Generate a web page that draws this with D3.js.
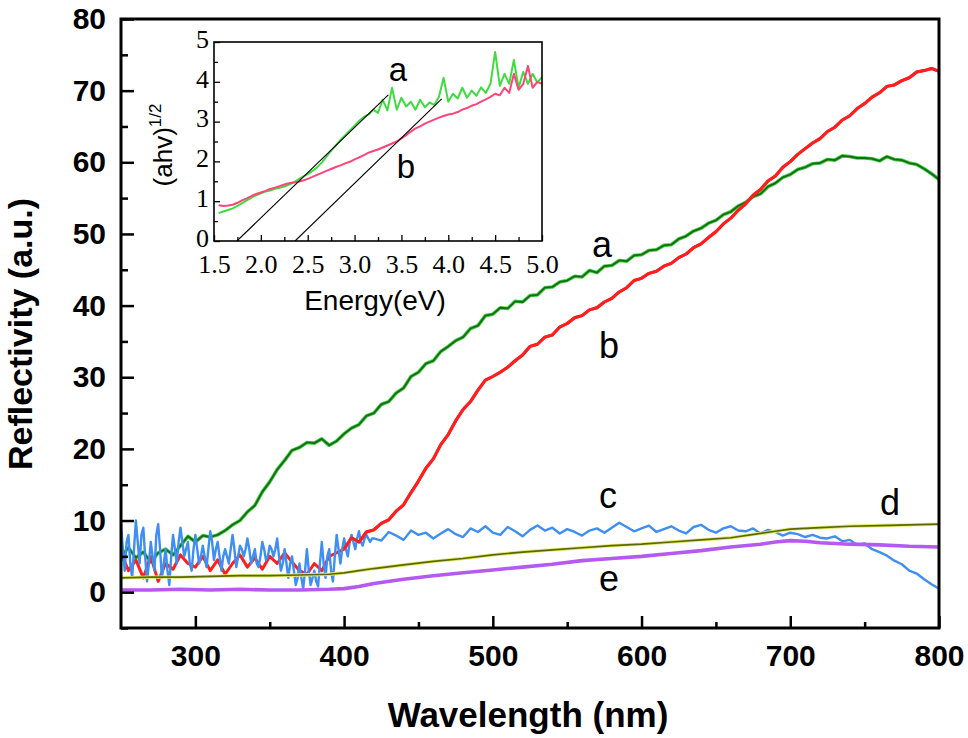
<!DOCTYPE html>
<html lang="en">
<head>
  <meta charset="UTF-8">
  <title>Reflectivity spectra</title>
  <script src="https://d3js.org/d3.v7.min.js"></script>
  <style>
    body { margin: 0; background: #fff; }
    svg { font-family: "Liberation Sans", Arial, sans-serif; }
    .main-tick text { font-weight: bold; font-size: 30px; fill: #000; }
    .inset-tick text { font-family: "Liberation Serif", "Times New Roman", serif; font-size: 26px; fill: #000; }
    .tick line { stroke: #000; }
  </style>
</head>
<body>
<svg id="chart" width="968" height="738"></svg>
<script>
// ---- main plot data (wavelength in nm, reflectivity in a.u.) ----
const xTicks = [300, 400, 500, 600, 700, 800];
const yTicks = [0, 10, 20, 30, 40, 50, 60, 70, 80];

// curves a and b: 250..800 nm every 5 nm
const stepAB = 5;
const curveA = [5.0, 6.2, 4.8, 5.6, 4.2, 5.5, 6.0, 5.2, 6.5, 7.8,
  7.0, 7.9, 7.7, 8.0, 8.6, 9.4, 10.0, 11.2, 12.1, 14.0,
  15.4, 17.1, 18.4, 19.8, 20.2, 20.9, 20.8, 21.4, 20.5, 21.1,
  22.1, 22.9, 23.4, 24.6, 25.0, 26.2, 26.6, 27.8, 28.5, 30.1,
  30.7, 31.9, 32.3, 33.6, 34.3, 35.1, 35.6, 36.8, 37.2, 38.6,
  38.8, 39.7, 39.6, 40.6, 40.5, 41.4, 41.5, 42.5, 42.6, 43.3,
  43.5, 44.1, 44.0, 44.9, 44.6, 45.5, 45.6, 46.3, 46.2, 47.0,
  47.1, 47.7, 47.8, 48.4, 48.5, 49.3, 49.7, 50.4, 50.8, 51.5,
  51.9, 52.7, 53.1, 53.9, 54.4, 55.2, 55.6, 56.6, 57.1, 57.9,
  58.3, 59.0, 59.3, 59.8, 59.9, 60.4, 60.3, 60.9, 60.8, 60.6,
  60.6, 60.5, 60.2, 60.8, 60.4, 60.3, 59.9, 59.7, 59.1, 58.4, 57.6];
const curveB = [5.5, 3.0, 4.5, 2.0, 5.0, 1.5, 4.0, 3.2, 5.2, 4.0,
  3.5, 5.0, 3.0, 4.5, 2.5, 4.0, 5.2, 3.5, 4.8, 3.2,
  5.0, 4.0, 5.5, 4.2, 3.0, 2.5, 4.0, 3.0, 5.0, 5.5,
  6.0, 7.6, 7.0, 8.4, 8.7, 9.6, 10.1, 11.3, 12.2, 13.9,
  15.5, 17.3, 18.6, 20.6, 22.0, 23.9, 25.5, 26.6, 28.2, 29.6,
  30.1, 30.7, 31.4, 32.3, 33.1, 34.3, 34.6, 35.6, 35.9, 37.0,
  37.5, 38.3, 38.6, 39.4, 39.7, 40.5, 41.0, 41.9, 42.5, 43.5,
  43.8, 44.5, 44.8, 45.5, 45.9, 46.7, 47.2, 48.1, 48.6, 49.5,
  50.3, 51.4, 52.2, 53.3, 54.2, 55.4, 56.2, 57.4, 58.1, 59.3,
  60.1, 61.1, 61.9, 62.7, 63.3, 64.3, 64.9, 65.9, 66.5, 67.5,
  68.2, 69.1, 69.7, 70.6, 70.8, 71.4, 71.8, 72.6, 72.8, 73.1, 72.7];

// curve c: noisy part 250..420 nm every 1.25 nm, then 425..800 nm every 5 nm
const curveCNoisy = [9.5, 6, 3, 7, 8, 4, 2, 6, 10, 7,
  4, 8, 9, 5, 1.5, 4, 7, 5, 3, 8,
  9.5, 6, 2, 4, 6, 3, 1, 5, 8, 6,
  4, 7, 9, 7, 5, 6, 7, 4, 3, 6,
  8, 6, 4, 5, 6.5, 5, 3.5, 6, 8.5, 7,
  4.5, 6, 7, 5, 3, 5, 6, 5, 4, 6,
  8, 6, 3.5, 5, 6.5, 6, 5, 6, 7.5, 6,
  4, 5, 6, 4, 3.5, 5, 7, 6, 4.5, 5,
  6.5, 6, 5, 6, 7.5, 5, 3, 4, 6, 4,
  2, 4, 5, 3, 1, 2, 4, 2, 0.5, 3,
  6, 3, 1, 2, 3, 1.5, 0.8, 4, 7, 4,
  2, 5, 6, 3, 1.5, 5, 8, 6, 4, 6,
  7.5, 6, 5, 7, 8, 7, 6, 7.5, 8.5, 7,
  6.5, 7.5, 8, 7.5, 7, 7.5, 7.5];
const curveCRest = [7.2, 8.4, 7.9, 7.3, 8.6, 8.0, 8.3, 7.5, 8.2, 8.8,
  8.1, 7.7, 8.9, 8.4, 9.2, 8.3, 8.0, 9.1, 8.5, 7.8,
  8.7, 9.3, 8.6, 9.0, 8.2, 8.8, 8.4, 7.9, 8.6, 8.9,
  8.3, 9.0, 9.7, 9.1, 8.5, 8.9, 9.3, 8.4, 8.8, 9.2,
  8.6, 8.2, 9.1, 9.4, 8.7, 8.3, 8.9, 9.2, 8.6, 8.5,
  8.9, 8.2, 8.7, 8.4, 7.9, 8.3, 8.1, 7.7, 8.0, 7.6,
  7.5, 7.8, 7.1, 7.3, 6.6, 6.8, 6.0, 5.6, 5.1, 4.4,
  3.9, 3.0, 2.6, 1.8, 1.1, 0.5];

// curves d and e: smooth, sampled at these wavelengths
const smoothWl = [250, 270, 290, 310, 330, 350, 370, 390, 400, 410, 420, 440, 460, 480, 500,
  520, 540, 560, 580, 600, 620, 640, 660, 680, 690, 700, 710, 720, 740, 760, 780, 800];
const curveD = [2.0, 2.1, 2.1, 2.2, 2.3, 2.3, 2.4, 2.5, 2.7, 3.0, 3.3, 3.8, 4.3, 4.7, 5.2,
  5.6, 5.9, 6.2, 6.5, 6.7, 7.0, 7.3, 7.6, 8.2, 8.5, 8.8, 8.9, 9.0, 9.2, 9.3, 9.4, 9.5];
const curveE = [0.3, 0.3, 0.4, 0.3, 0.4, 0.3, 0.3, 0.4, 0.5, 0.8, 1.2, 1.8, 2.3, 2.7, 3.1,
  3.5, 3.9, 4.4, 4.7, 5.0, 5.4, 5.8, 6.3, 6.7, 7.0, 7.2, 7.1, 6.9, 6.7, 6.6, 6.4, 6.3];

// ---- inset data (photon energy in eV, (ahv)^1/2) ----
const insetXTicks = [1.5, 2.0, 2.5, 3.0, 3.5, 4.0, 4.5, 5.0];
const insetYTicks = [0, 1, 2, 3, 4, 5];
const insetStep = 0.05; // from 1.55 eV
const insetA = [0.70, 0.74, 0.78, 0.82, 0.88, 0.95, 1.02, 1.09, 1.15, 1.20,
  1.24, 1.27, 1.31, 1.34, 1.37, 1.42, 1.47, 1.55, 1.62, 1.68,
  1.76, 1.85, 1.97, 2.12, 2.27, 2.40, 2.54, 2.66, 2.78, 2.90,
  3.02, 3.12, 3.18, 3.30, 3.22, 3.55, 3.28, 3.85, 3.30, 3.60,
  3.38, 3.50, 3.30, 3.55, 3.36, 3.48, 3.42, 3.62, 4.10, 3.50,
  3.70, 3.58, 3.85, 3.60, 3.78, 3.65, 3.86, 3.72, 3.95, 4.75,
  3.90, 4.20, 3.95, 4.55, 3.85, 4.25, 3.95, 4.20, 3.98, 4.12];
const insetB = [0.90, 0.88, 0.89, 0.91, 0.96, 1.02, 1.07, 1.13, 1.18, 1.22,
  1.26, 1.31, 1.34, 1.38, 1.42, 1.45, 1.47, 1.49, 1.52, 1.56,
  1.61, 1.66, 1.71, 1.76, 1.81, 1.86, 1.90, 1.95, 1.99, 2.05,
  2.10, 2.16, 2.22, 2.26, 2.30, 2.35, 2.40, 2.45, 2.50, 2.58,
  2.66, 2.75, 2.83, 2.88, 2.95, 3.00, 3.05, 3.10, 3.14, 3.18,
  3.20, 3.24, 3.30, 3.34, 3.40, 3.44, 3.50, 3.56, 3.62, 3.70,
  3.66, 3.85, 3.72, 4.20, 3.80, 3.95, 4.40, 3.85, 4.00, 3.95];
// tangent lines used for the band-gap extrapolation
const tangentA = [[1.745, 0], [3.36, 3.67]];
const tangentB = [[2.365, 0], [3.93, 3.57]];

// ---- build point lists ----
const toPts = (vals, start, step) => vals.map((v, i) => [start + i * step, v]);
const seriesA = toPts(curveA, 250, stepAB);
const seriesB = toPts(curveB, 250, stepAB);
const seriesC = toPts(curveCNoisy, 250, 1.25).concat(toPts(curveCRest, 425, 5));
const seriesD = smoothWl.map((w, i) => [w, curveD[i]]);
const seriesE = smoothWl.map((w, i) => [w, curveE[i]]);

const svg = d3.select("#chart");

const x = d3.scaleLinear().domain([250, 800]).range([121, 939]);
const y = d3.scaleLinear().domain([-5, 80]).range([628, 19]);

const defs = svg.append("defs");
defs.append("clipPath").attr("id", "plotClip")
  .append("rect").attr("x", 121).attr("y", 19).attr("width", 818).attr("height", 609);

const line = d3.line().x(d => x(d[0])).y(d => y(d[1]));
const plot = svg.append("g").attr("clip-path", "url(#plotClip)");

function drawSeries(g, gen, data, color, width) {
  g.append("path").datum(data)
    .attr("fill", "none").attr("stroke", color).attr("stroke-width", width)
    .attr("stroke-linejoin", "round").attr("d", gen);
}

drawSeries(plot, line, seriesA, "#45cc45", 3.6);
drawSeries(plot, line, seriesA, "#116d11", 1.8);
drawSeries(plot, line, seriesB, "#ff1f1f", 3);
drawSeries(plot, line, seriesC, "#3f8ef2", 2.4);
// the rising part of b lies on top of c
drawSeries(plot, line, seriesB.filter(d => d[0] >= 400), "#ff1f1f", 3);
drawSeries(plot, line, seriesD, "#e4e872", 3.4);
drawSeries(plot, line, seriesD, "#5a6a00", 1.7);
drawSeries(plot, line, seriesE, "#b55af0", 3.6);

// axes with inward ticks
svg.append("g").attr("class", "main-tick")
  .attr("transform", "translate(0,628)")
  .call(d3.axisBottom(x).tickValues(xTicks).tickSizeInner(-12).tickSizeOuter(0).tickPadding(17))
  .call(g => g.select(".domain").remove())
  .call(g => g.selectAll("line").attr("stroke-width", 2.5));
svg.append("g")
  .attr("transform", "translate(0,628)")
  .call(d3.axisBottom(x).tickValues([350, 450, 550, 650, 750]).tickSizeInner(-6).tickSizeOuter(0).tickFormat(""))
  .call(g => g.select(".domain").remove())
  .call(g => g.selectAll("line").attr("stroke-width", 2.5));

svg.append("g").attr("class", "main-tick")
  .attr("transform", "translate(121,0)")
  .call(d3.axisLeft(y).tickValues(yTicks).tickSizeInner(-13).tickSizeOuter(0).tickPadding(15))
  .call(g => g.select(".domain").remove())
  .call(g => g.selectAll("line").attr("stroke-width", 2.5));
svg.append("g")
  .attr("transform", "translate(121,0)")
  .call(d3.axisLeft(y).tickValues([-5, 5, 15, 25, 35, 45, 55, 65, 75]).tickSizeInner(-7).tickSizeOuter(0).tickFormat(""))
  .call(g => g.select(".domain").remove())
  .call(g => g.selectAll("line").attr("stroke-width", 2.5));

// frame
svg.append("rect").attr("x", 121).attr("y", 19).attr("width", 818).attr("height", 609)
  .attr("fill", "none").attr("stroke", "#000").attr("stroke-width", 3);

// axis titles
svg.append("text").attr("x", 528).attr("y", 727).attr("text-anchor", "middle")
  .attr("font-weight", "bold").attr("font-size", 35).text("Wavelength (nm)");
svg.append("text").attr("transform", "translate(32,334) rotate(-90)").attr("text-anchor", "middle")
  .attr("font-weight", "bold").attr("font-size", 34).text("Reflectivity (a.u.)");

// curve labels
const curveLabels = [
  { t: "a", x: 602, y: 257 }, { t: "b", x: 609, y: 358 }, { t: "c", x: 608, y: 508 },
  { t: "d", x: 890, y: 515 }, { t: "e", x: 609, y: 591 }];
svg.append("g").selectAll("text").data(curveLabels).join("text")
  .attr("x", d => d.x).attr("y", d => d.y).attr("text-anchor", "middle")
  .attr("font-size", 36).text(d => d.t);

// ---- inset ----
const ix = d3.scaleLinear().domain([1.5, 5.0]).range([214, 542]);
const iy = d3.scaleLinear().domain([0, 5]).range([241, 42]);
const iline = d3.line().x(d => ix(d[0])).y(d => iy(d[1]));

svg.append("rect").attr("x", 214).attr("y", 42).attr("width", 328).attr("height", 199).attr("fill", "#fff");
defs.append("clipPath").attr("id", "insetClip")
  .append("rect").attr("x", 214).attr("y", 42).attr("width", 328).attr("height", 199);
const inset = svg.append("g").attr("clip-path", "url(#insetClip)");

drawSeries(inset, iline, toPts(insetA, 1.55, insetStep), "#3fdc3f", 2);
drawSeries(inset, iline, toPts(insetB, 1.55, insetStep), "#ff4577", 2);
drawSeries(inset, iline, tangentA, "#000", 1.1);
drawSeries(inset, iline, tangentB, "#000", 1.1);

svg.append("g").attr("class", "inset-tick")
  .attr("transform", "translate(0,241)")
  .call(d3.axisBottom(ix).tickValues(insetXTicks).tickFormat(d3.format(".1f"))
    .tickSizeInner(-6).tickSizeOuter(0).tickPadding(14))
  .call(g => g.select(".domain").remove())
  .call(g => g.selectAll("line").attr("stroke-width", 1.3));
svg.append("g")
  .attr("transform", "translate(0,241)")
  .call(d3.axisBottom(ix).tickValues([1.75, 2.25, 2.75, 3.25, 3.75, 4.25, 4.75]).tickFormat("")
    .tickSizeInner(-4).tickSizeOuter(0))
  .call(g => g.select(".domain").remove())
  .call(g => g.selectAll("line").attr("stroke-width", 1.3));
svg.append("g").attr("class", "inset-tick")
  .attr("transform", "translate(214,0)")
  .call(d3.axisLeft(iy).tickValues(insetYTicks).tickFormat(d3.format("d"))
    .tickSizeInner(-6).tickSizeOuter(0).tickPadding(5))
  .call(g => g.select(".domain").remove())
  .call(g => g.selectAll("line").attr("stroke-width", 1.3))
  .call(g => g.selectAll("text").attr("dy", "0.2em"));
svg.append("g")
  .attr("transform", "translate(214,0)")
  .call(d3.axisLeft(iy).tickValues([0.5, 1.5, 2.5, 3.5, 4.5]).tickFormat("").tickSizeInner(-4).tickSizeOuter(0))
  .call(g => g.select(".domain").remove())
  .call(g => g.selectAll("line").attr("stroke-width", 1.3));

svg.append("rect").attr("x", 214).attr("y", 42).attr("width", 328).attr("height", 199)
  .attr("fill", "none").attr("stroke", "#000").attr("stroke-width", 1.6);

svg.append("text").attr("x", 375).attr("y", 310).attr("text-anchor", "middle")
  .attr("font-size", 28).text("Energy(eV)");
const iyTitle = svg.append("text").attr("transform", "translate(172,145) rotate(-90)")
  .attr("text-anchor", "middle").attr("font-size", 26);
iyTitle.append("tspan").text("(ahv)");
iyTitle.append("tspan").attr("dy", -11).attr("font-size", 17).text("1/2");

svg.append("text").attr("x", 398).attr("y", 81).attr("text-anchor", "middle").attr("font-size", 33).text("a");
svg.append("text").attr("x", 406).attr("y", 178).attr("text-anchor", "middle").attr("font-size", 33).text("b");
</script>
</body>
</html>
